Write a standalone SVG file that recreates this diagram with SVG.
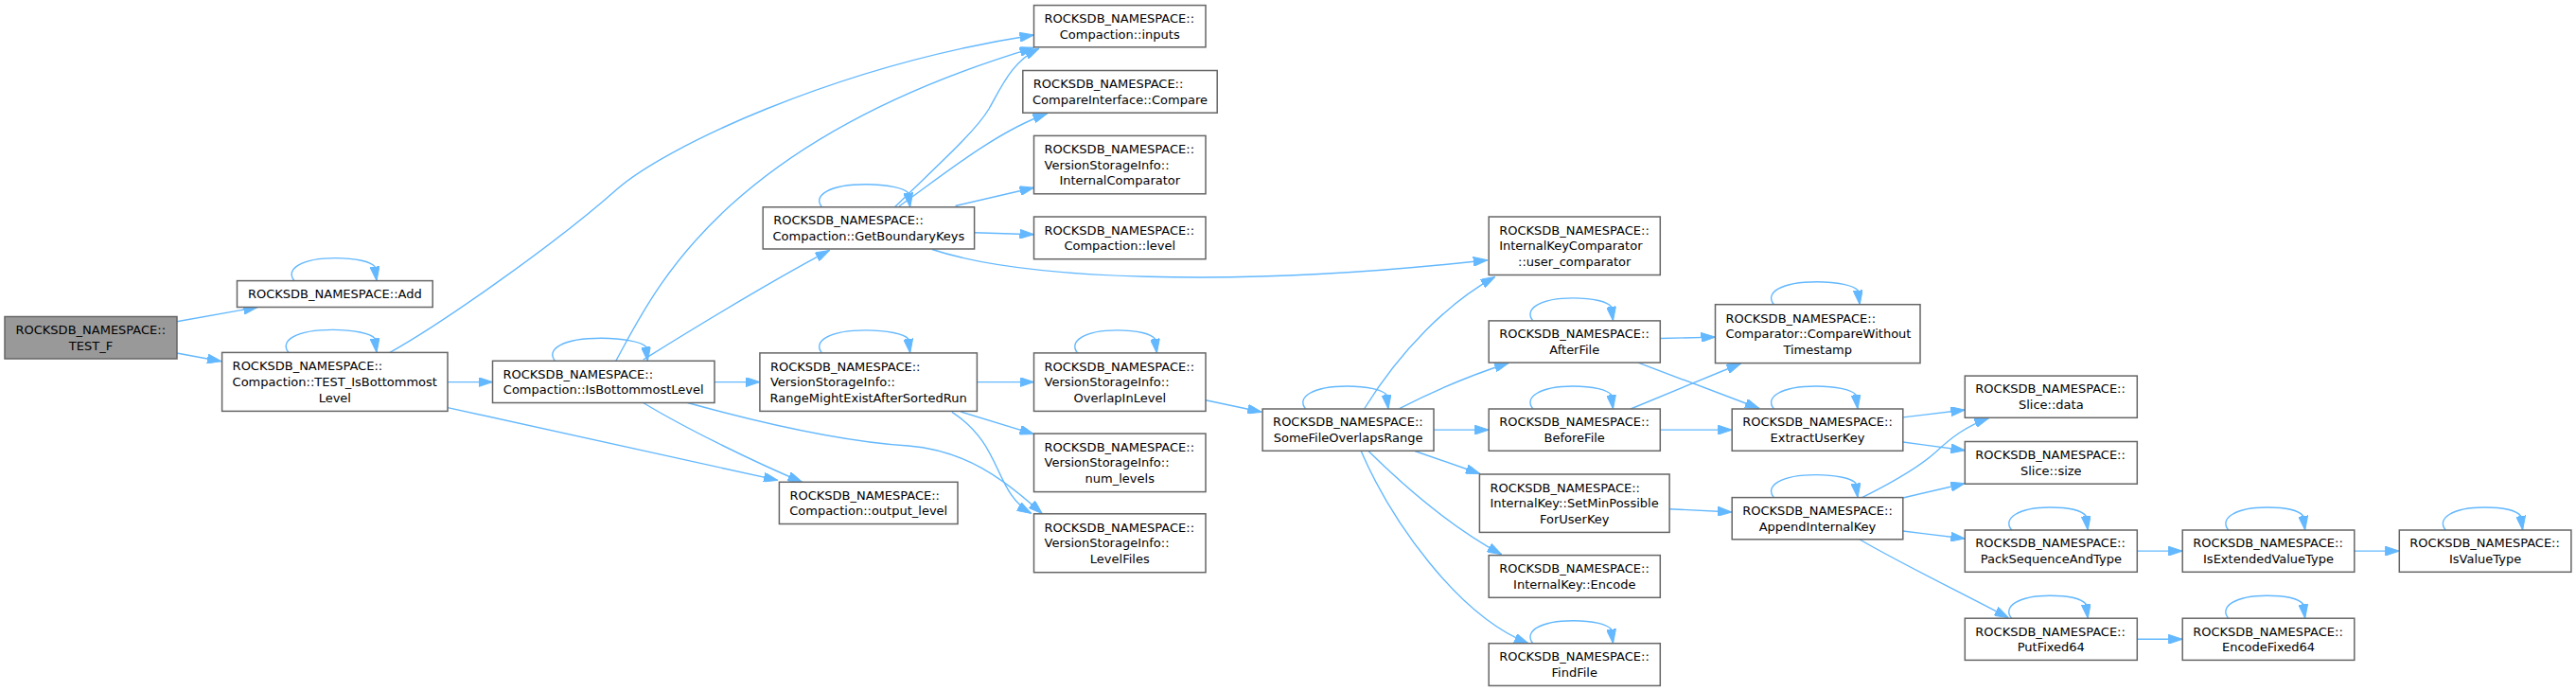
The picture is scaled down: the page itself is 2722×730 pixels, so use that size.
<svg xmlns="http://www.w3.org/2000/svg" width="2722" height="730" viewBox="0 0 2722 730">
<style>
.n rect{fill:#ffffff;stroke:#666666;stroke-width:1.5}
.root rect{fill:#999999}
text{font-family:"DejaVu Sans",sans-serif;font-size:13px;fill:#000000}
.s{text-anchor:start}
.m{text-anchor:middle}
#edges path{fill:none;stroke:#63b8ff;stroke-width:1.4;marker-end:url(#a)}
</style>
<defs>
<marker id="a" viewBox="0 0 15 10" refX="15" refY="5" markerWidth="15" markerHeight="10" orient="auto" markerUnits="userSpaceOnUse">
<path d="M0,0 L15,5 L0,10 z" fill="#63b8ff" stroke="#63b8ff" stroke-width="1"/>
</marker>
</defs>
<rect x="0" y="0" width="2722" height="730" fill="#ffffff"/>
<g id="edges">
<path d="M186.7,339.8 L272.3,324.5"/>
<path d="M186.7,373 L234,381.7"/>
<path d="M473,403.6 L520.5,403.6"/>
<path d="M412,372.4 C470,340 590,255 651.8,200 C700,157 880,70 1092.5,37"/>
<path d="M650.8,381.3 C690,310 760,150 1092.5,50.3"/>
<path d="M945.4,218.8 C990,175 1030,140 1045,115 C1060,88 1070,65 1098,51.2"/>
<path d="M950,218 C990,190 1050,140 1106.5,120"/>
<path d="M1009.6,217.5 L1092.5,198.3"/>
<path d="M1029.6,245.8 L1092.5,247.7"/>
<path d="M985,263.5 C1080,295 1300,305 1571.8,274.7"/>
<path d="M679.7,380 C720,355 800,305 876.5,264.4"/>
<path d="M755,403.6 L803,403.6"/>
<path d="M1032.4,403.6 L1092.5,403.6"/>
<path d="M1015.2,435 L1092.5,458.6"/>
<path d="M1005.9,435.3 C1060,470 1050,520 1089.7,542.4"/>
<path d="M726.6,425.5 C790,443 880,466 960,471 C1020,476 1060,505 1101.3,542.8"/>
<path d="M679.7,425.5 C720,450 790,485 847.6,509.3"/>
<path d="M473,430.6 L822,507.4"/>
<path d="M1274,422.7 L1333.2,435.3"/>
<path d="M1441.5,432 C1480,370 1530,320 1579.7,292.4"/>
<path d="M1478.7,431.6 C1515,413 1555,396 1594.2,383.5"/>
<path d="M1515,454.15 L1573.2,454.15"/>
<path d="M1495,476.5 L1564,500.5"/>
<path d="M1446,476.5 C1480,510 1530,555 1586.7,585.7"/>
<path d="M1438.2,476.5 C1470,550 1540,650 1615,679.7"/>
<path d="M1754.3,357.5 L1812.5,356.1"/>
<path d="M1731,383.1 L1859,431.5"/>
<path d="M1723.1,432 L1839.5,384"/>
<path d="M1754.3,454.15 L1830.2,454.15"/>
<path d="M1764.1,537.7 L1830.2,541"/>
<path d="M2010.8,440.9 L2076.3,433"/>
<path d="M2010.8,467 L2076.3,475.8"/>
<path d="M1967.6,525.6 C1995,512 2025,496 2045,478 C2062,462 2078,450 2101.4,441.8"/>
<path d="M2010.8,526 L2076.3,510.7"/>
<path d="M2010.8,561 L2076.3,569"/>
<path d="M1965.2,570 C2010,596 2070,625 2122.4,652.7"/>
<path d="M2258.3,582.15 L2306.2,582.15"/>
<path d="M2487.8,582.15 L2535.3,582.15"/>
<path d="M2258.3,675.3 L2306.2,675.3"/>
<path d="M311,296.6 C301,284.6 318,272.6 354.5,272.6 C376.5,272.6 392,276.6 396,281.6 L398,296.6"/>
<path d="M305,372.4 C295,360.4 312,348.4 351.5,348.4 C373.5,348.4 392,352.4 396,357.4 L398,372.4"/>
<path d="M586.6,381.3 C576.6,369.3 593.6,357.3 635.5,357.3 C657.5,357.3 678.4,361.3 682.4,366.3 L684.4,381.3"/>
<path d="M868.5,218.8 C858.5,206.8 875.5,194.8 915.1,194.8 C937.1,194.8 955.7,198.8 959.7,203.8 L961.7,218.8"/>
<path d="M868.5,372.9 C858.5,360.9 875.5,348.9 915.1,348.9 C937.1,348.9 955.7,352.9 959.7,357.9 L961.7,372.9"/>
<path d="M1138.6,372.9 C1128.6,360.9 1145.6,348.9 1180.5,348.9 C1202.5,348.9 1216.4,352.9 1220.4,357.9 L1222.4,372.9"/>
<path d="M1379.6,432 C1369.6,420 1386.6,408 1423.3,408 C1445.3,408 1461,412 1465,417 L1467,432"/>
<path d="M1619.8,338.9 C1609.8,326.9 1626.8,314.9 1662.15,314.9 C1684.15,314.9 1698.5,318.9 1702.5,323.9 L1704.5,338.9"/>
<path d="M1619.8,432 C1609.8,420 1626.8,408 1662.15,408 C1684.15,408 1698.5,412 1702.5,417 L1704.5,432"/>
<path d="M1619.8,679.7 C1609.8,667.7 1626.8,655.7 1662.15,655.7 C1684.15,655.7 1698.5,659.7 1702.5,664.7 L1704.5,679.7"/>
<path d="M1874.4,321.7 C1864.4,309.7 1881.4,297.7 1919.8,297.7 C1941.8,297.7 1959.2,301.7 1963.2,306.7 L1965.2,321.7"/>
<path d="M1874.4,432 C1864.4,420 1881.4,408 1918.7,408 C1940.7,408 1957,412 1961,417 L1963,432"/>
<path d="M1874.4,525.6 C1864.4,513.6 1881.4,501.6 1918.7,501.6 C1940.7,501.6 1957,505.6 1961,510.6 L1963,525.6"/>
<path d="M2125.6,560 C2115.6,548 2132.6,536 2165.9,536 C2187.9,536 2200.2,540 2204.2,545 L2206.2,560"/>
<path d="M2125.6,653.2 C2115.6,641.2 2132.6,629.2 2165.9,629.2 C2187.9,629.2 2200.2,633.2 2204.2,638.2 L2206.2,653.2"/>
<path d="M2354.7,560 C2344.7,548 2361.7,536 2395.2,536 C2417.2,536 2429.7,540 2433.7,545 L2435.7,560"/>
<path d="M2354.7,653.2 C2344.7,641.2 2361.7,629.2 2395.2,629.2 C2417.2,629.2 2429.7,633.2 2433.7,638.2 L2435.7,653.2"/>
<path d="M2584.2,560 C2574.2,548 2591.2,536 2624.9,536 C2646.9,536 2659.6,540 2663.6,545 L2665.6,560"/>
</g>
<g id="node-test_f" class="n root"><rect x="5" y="334.5" width="182" height="44.5"/><text class="s" x="16.5" y="352.95">ROCKSDB_NAMESPACE::</text><text class="m" x="96" y="369.55">TEST_F</text></g>
<g id="node-add" class="n"><rect x="250.5" y="296.6" width="206.7" height="27.9"/><text class="m" x="353.85" y="315">ROCKSDB_NAMESPACE::Add</text></g>
<g id="node-test_isbottommostlevel" class="n"><rect x="234.6" y="372.4" width="238.4" height="62"/><text class="s" x="245.6" y="391.3">ROCKSDB_NAMESPACE::</text><text class="s" x="245.6" y="407.9">Compaction::TEST_IsBottommost</text><text class="m" x="353.8" y="424.5">Level</text></g>
<g id="node-isbottommostlevel" class="n"><rect x="520.5" y="381.3" width="234.5" height="44.2"/><text class="s" x="531.5" y="399.6">ROCKSDB_NAMESPACE::</text><text class="m" x="637.75" y="416.2">Compaction::IsBottommostLevel</text></g>
<g id="node-inputs" class="n"><rect x="1092.5" y="5.6" width="181.5" height="44.2"/><text class="s" x="1103.5" y="23.9">ROCKSDB_NAMESPACE::</text><text class="m" x="1183.25" y="40.5">Compaction::inputs</text></g>
<g id="node-compare" class="n"><rect x="1080.8" y="74.5" width="205.4" height="44.7"/><text class="s" x="1091.8" y="93.05">ROCKSDB_NAMESPACE::</text><text class="m" x="1183.5" y="109.65">CompareInterface::Compare</text></g>
<g id="node-internalcomparator" class="n"><rect x="1092.5" y="143.4" width="181.5" height="61.4"/><text class="s" x="1103.5" y="162">ROCKSDB_NAMESPACE::</text><text class="s" x="1103.5" y="178.6">VersionStorageInfo::</text><text class="m" x="1183.25" y="195.2">InternalComparator</text></g>
<g id="node-level" class="n"><rect x="1092.5" y="229" width="181.5" height="44.7"/><text class="s" x="1103.5" y="247.55">ROCKSDB_NAMESPACE::</text><text class="m" x="1183.25" y="264.15">Compaction::level</text></g>
<g id="node-getboundarykeys" class="n"><rect x="806.2" y="218.8" width="223.4" height="44.2"/><text class="s" x="817.2" y="237.1">ROCKSDB_NAMESPACE::</text><text class="m" x="917.9" y="253.7">Compaction::GetBoundaryKeys</text></g>
<g id="node-rangemightexist" class="n"><rect x="802.9" y="372.9" width="229.5" height="61.5"/><text class="s" x="813.9" y="391.55">ROCKSDB_NAMESPACE::</text><text class="s" x="813.9" y="408.15">VersionStorageInfo::</text><text class="m" x="917.65" y="424.75">RangeMightExistAfterSortedRun</text></g>
<g id="node-overlapinlevel" class="n"><rect x="1092.5" y="372.9" width="181.5" height="61.5"/><text class="s" x="1103.5" y="391.55">ROCKSDB_NAMESPACE::</text><text class="s" x="1103.5" y="408.15">VersionStorageInfo::</text><text class="m" x="1183.25" y="424.75">OverlapInLevel</text></g>
<g id="node-num_levels" class="n"><rect x="1092.5" y="458.1" width="181.5" height="61.5"/><text class="s" x="1103.5" y="476.75">ROCKSDB_NAMESPACE::</text><text class="s" x="1103.5" y="493.35">VersionStorageInfo::</text><text class="m" x="1183.25" y="509.95">num_levels</text></g>
<g id="node-levelfiles" class="n"><rect x="1092.5" y="542.8" width="181.5" height="61.9"/><text class="s" x="1103.5" y="561.65">ROCKSDB_NAMESPACE::</text><text class="s" x="1103.5" y="578.25">VersionStorageInfo::</text><text class="m" x="1183.25" y="594.85">LevelFiles</text></g>
<g id="node-output_level" class="n"><rect x="823.4" y="509.3" width="188.6" height="44.2"/><text class="s" x="834.4" y="527.6">ROCKSDB_NAMESPACE::</text><text class="m" x="917.7" y="544.2">Compaction::output_level</text></g>
<g id="node-user_comparator" class="n"><rect x="1573.2" y="229" width="181.1" height="61.5"/><text class="s" x="1584.2" y="247.65">ROCKSDB_NAMESPACE::</text><text class="s" x="1584.2" y="264.25">InternalKeyComparator</text><text class="m" x="1663.75" y="280.85">::user_comparator</text></g>
<g id="node-somefileoverlapsrange" class="n"><rect x="1334.1" y="432" width="180.9" height="44.3"/><text class="s" x="1345.1" y="450.35">ROCKSDB_NAMESPACE::</text><text class="m" x="1424.55" y="466.95">SomeFileOverlapsRange</text></g>
<g id="node-afterfile" class="n"><rect x="1573.2" y="338.9" width="181.1" height="44.2"/><text class="s" x="1584.2" y="357.2">ROCKSDB_NAMESPACE::</text><text class="m" x="1663.75" y="373.8">AfterFile</text></g>
<g id="node-beforefile" class="n"><rect x="1573.2" y="432" width="181.1" height="44.3"/><text class="s" x="1584.2" y="450.35">ROCKSDB_NAMESPACE::</text><text class="m" x="1663.75" y="466.95">BeforeFile</text></g>
<g id="node-setminpossible" class="n"><rect x="1563.4" y="501" width="200.7" height="61.4"/><text class="s" x="1574.4" y="519.6">ROCKSDB_NAMESPACE::</text><text class="s" x="1574.4" y="536.2">InternalKey::SetMinPossible</text><text class="m" x="1663.75" y="552.8">ForUserKey</text></g>
<g id="node-encode" class="n"><rect x="1573.2" y="586.6" width="181.1" height="44.7"/><text class="s" x="1584.2" y="605.15">ROCKSDB_NAMESPACE::</text><text class="m" x="1663.75" y="621.75">InternalKey::Encode</text></g>
<g id="node-findfile" class="n"><rect x="1573.2" y="679.7" width="181.1" height="44.7"/><text class="s" x="1584.2" y="698.25">ROCKSDB_NAMESPACE::</text><text class="m" x="1663.75" y="714.85">FindFile</text></g>
<g id="node-comparewithouttimestamp" class="n"><rect x="1812.5" y="321.7" width="216.5" height="61.9"/><text class="s" x="1823.5" y="340.55">ROCKSDB_NAMESPACE::</text><text class="s" x="1823.5" y="357.15">Comparator::CompareWithout</text><text class="m" x="1920.75" y="373.75">Timestamp</text></g>
<g id="node-extractuserkey" class="n"><rect x="1830.2" y="432" width="180.6" height="44.3"/><text class="s" x="1841.2" y="450.35">ROCKSDB_NAMESPACE::</text><text class="m" x="1920.5" y="466.95">ExtractUserKey</text></g>
<g id="node-appendinternalkey" class="n"><rect x="1830.2" y="525.6" width="180.6" height="44.2"/><text class="s" x="1841.2" y="543.9">ROCKSDB_NAMESPACE::</text><text class="m" x="1920.5" y="560.5">AppendInternalKey</text></g>
<g id="node-slice_data" class="n"><rect x="2076.3" y="397.1" width="182" height="44.2"/><text class="s" x="2087.3" y="415.4">ROCKSDB_NAMESPACE::</text><text class="m" x="2167.3" y="432">Slice::data</text></g>
<g id="node-slice_size" class="n"><rect x="2076.3" y="466.5" width="182" height="44.7"/><text class="s" x="2087.3" y="485.05">ROCKSDB_NAMESPACE::</text><text class="m" x="2167.3" y="501.65">Slice::size</text></g>
<g id="node-packsequenceandtype" class="n"><rect x="2076.3" y="560" width="182" height="44.3"/><text class="s" x="2087.3" y="578.35">ROCKSDB_NAMESPACE::</text><text class="m" x="2167.3" y="594.95">PackSequenceAndType</text></g>
<g id="node-putfixed64" class="n"><rect x="2076.3" y="653.2" width="182" height="44.2"/><text class="s" x="2087.3" y="671.5">ROCKSDB_NAMESPACE::</text><text class="m" x="2167.3" y="688.1">PutFixed64</text></g>
<g id="node-isextendedvaluetype" class="n"><rect x="2306.2" y="560" width="181.6" height="44.3"/><text class="s" x="2317.2" y="578.35">ROCKSDB_NAMESPACE::</text><text class="m" x="2397" y="594.95">IsExtendedValueType</text></g>
<g id="node-encodefixed64" class="n"><rect x="2306.2" y="653.2" width="181.6" height="44.2"/><text class="s" x="2317.2" y="671.5">ROCKSDB_NAMESPACE::</text><text class="m" x="2397" y="688.1">EncodeFixed64</text></g>
<g id="node-isvaluetype" class="n"><rect x="2535.3" y="560" width="181.6" height="44.3"/><text class="s" x="2546.3" y="578.35">ROCKSDB_NAMESPACE::</text><text class="m" x="2626.1" y="594.95">IsValueType</text></g>
</svg>
